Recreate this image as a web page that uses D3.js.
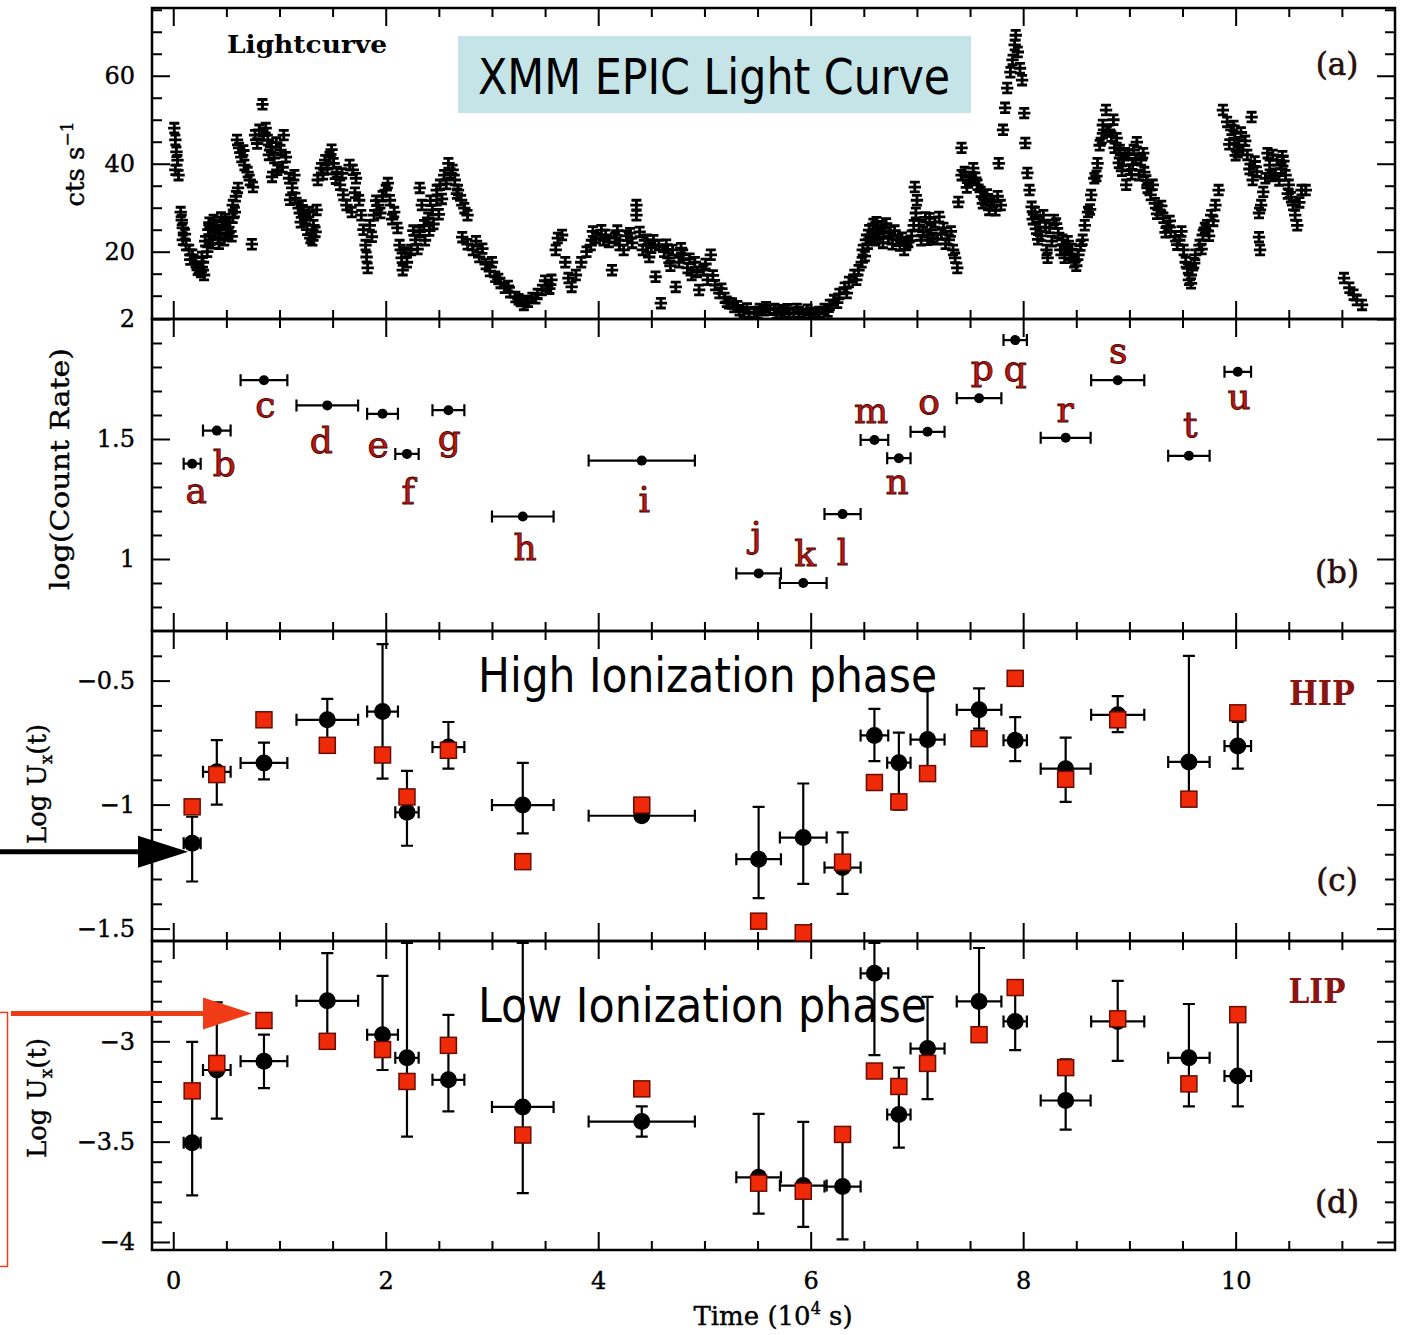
<!DOCTYPE html>
<html><head><meta charset="utf-8">
<script src="https://cdn.jsdelivr.net/npm/d3@7/dist/d3.min.js"></script>
<style>body{margin:0;background:#fff}svg{display:block}</style>
</head><body>
<svg id="chart" width="1402" height="1335"></svg>
<script>
// ---------------- DATA ----------------
const segmentNames = ["a","b","c","d","e","f","g","h","i","j","k","l","m","n","o","p","q","r","s","t","u"];
const segmentTime = [0.178,0.41,0.854,1.45,1.97,2.20,2.59,3.29,4.41,5.51,5.93,6.30,6.60,6.83,7.10,7.585,7.925,8.40,8.89,9.56,10.02];
const segmentHalfWidth = [0.08,0.13,0.22,0.29,0.145,0.11,0.15,0.29,0.50,0.21,0.22,0.17,0.13,0.11,0.16,0.21,0.11,0.235,0.25,0.195,0.125];
const logCountRate = [1.397,1.535,1.745,1.64,1.605,1.438,1.62,1.177,1.41,0.94,0.90,1.187,1.496,1.42,1.53,1.67,1.912,1.505,1.745,1.43,1.78];
const labelTime = [0.216,0.48,0.866,1.393,1.929,2.212,2.598,3.313,4.433,5.487,5.948,6.30,6.569,6.814,7.115,7.614,7.925,8.395,8.894,9.572,10.033];
const labelLogRate = [1.235,1.345,1.592,1.441,1.427,1.231,1.455,0.995,1.194,1.049,0.970,0.974,1.568,1.272,1.605,1.747,1.743,1.571,1.815,1.509,1.624];

const hipObs  = [-1.156,-0.868,-0.832,-0.658,-0.625,-1.031,-0.768,-1.002,-1.045,-1.22,-1.133,-1.254,-0.721,-0.831,-0.738,-0.618,-0.741,-0.855,-0.638,-0.828,-0.764];
const hipLow  = [-1.31,-1.0,-0.898,-0.748,-0.895,-1.166,-0.855,-1.116,-1.06,-1.377,-1.32,-1.36,-0.825,-1.02,-0.866,-0.694,-0.825,-0.989,-0.708,-0.99,-0.855];
const hipHigh = [-1.049,-0.74,-0.75,-0.574,-0.353,-0.864,-0.667,-0.832,-1.02,-1.009,-0.915,-1.112,-0.614,-0.71,-0.533,-0.531,-0.647,-0.73,-0.563,-0.40,-0.667];
const hipModel= [-1.009,-0.879,-0.658,-0.761,-0.80,-0.969,-0.781,-1.23,-1.002,-1.47,-1.517,-1.232,-0.911,-0.989,-0.875,-0.734,-0.491,-0.898,-0.658,-0.978,-0.63];

const lipObs  = [-3.505,-3.143,-3.099,-2.798,-2.967,-3.082,-3.192,-3.327,-3.40,-3.678,-3.719,-3.724,-2.661,-3.365,-3.036,-2.801,-2.901,-3.295,-2.901,-3.082,-3.173];
const lipLow  = [-3.768,-3.385,-3.233,-3.0,-3.143,-3.475,-3.349,-3.757,-3.475,-3.859,-3.925,-3.987,-3.069,-3.53,-3.288,-2.967,-3.044,-3.44,-3.097,-3.324,-3.324];
const lipHigh = [-3.003,-2.806,-2.967,-2.56,-2.674,-2.51,-2.868,-2.51,-3.324,-3.362,-3.401,-3.464,-2.51,-3.131,-2.778,-2.535,-2.74,-3.09,-2.699,-2.814,-2.867];
const lipModel= [-3.247,-3.11,-2.896,-3.0,-3.041,-3.2,-3.02,-3.467,-3.237,-3.707,-3.747,-3.464,-3.148,-3.225,-3.11,-2.967,-2.732,-3.131,-2.888,-3.212,-2.867];

// light curve: [time (1e4 s), rate (cts/s)]
const lightCurve = [
[0.01,48.1],[0.02,45.4],[0.03,42.7],[0.04,40.8],[0.02,38.6],[0.05,37.4],[0.07,29],[0.08,27.2],[0.09,25.4],[0.09,22.7],
[0.12,21.5],[0.15,20.4],[0.18,19.3],[0.21,17.6],[0.24,16.3],[0.26,15.4],[0.29,14.7],[0.28,17.6],[0.32,20],[0.35,22.7],
[0.39,24.5],[0.41,25.8],[0.44,24.2],[0.47,26],[0.50,25],[0.53,26.7],[0.55,23.5],[0.56,27.7],[0.56,30.6],[0.59,32.6],
[0.61,34.5],[0.60,45.4],[0.62,43.6],[0.64,41.5],[0.67,39.7],[0.70,38.1],[0.72,36.3],[0.75,34.7],[0.74,21.7],[0.77,46.5],
[0.81,47.7],[0.84,53.5],[0.87,48.1],[0.89,45.4],[0.92,43.8],[0.95,41.3],[0.98,38.6],[0.93,37],[1.01,43.1],[1.04,46.5],
[1.06,41.5],[1.09,36.7],[1.12,34.5],[1.15,32.2],[1.18,29.9],[1.20,26.7],[1.23,28.3],[1.26,25],[1.29,23.1],[1.32,26],
[1.35,29.5],[1.36,36.3],[1.39,39],[1.43,40.8],[1.47,41.5],[1.51,40.1],[1.54,38.1],[1.57,35.2],[1.60,32.9],[1.63,30.6],
[1.66,39.7],[1.69,38.6],[1.72,36.7],[1.68,29],[1.75,31.7],[1.77,28.3],[1.79,25],[1.81,21.5],[1.82,18.8],[1.83,16.3],
[1.85,26],[1.89,28.3],[1.93,30.6],[1.97,32.6],[2.00,34],[2.04,31.7],[2.08,29],[2.11,25.4],[2.13,21.5],[2.15,18.6],
[2.16,15.8],[2.20,17.6],[2.24,20.4],[2.28,22.7],[2.32,24.5],[2.32,34.5],[2.34,30.6],[2.36,26],[2.40,27.7],[2.44,29.5],
[2.48,34],[2.48,31.7],[2.51,35.2],[2.55,37.4],[2.59,40.1],[2.63,38.6],[2.65,36.3],[2.68,34],[2.71,31.7],[2.74,29.9],
[2.77,28.3],[2.72,23.3],[2.77,21.7],[2.82,20.4],[2.88,18.8],[2.94,17.2],[2.98,15.6],[3.03,14.3],[3.08,12.9],[3.12,11.8],
[3.17,10.8],[3.22,9.7],[3.27,8.8],[3.30,7.9],[3.34,8.6],[3.38,9.5],[3.43,10.4],[3.47,11.3],[3.52,12.2],[3.56,13.6],
[3.60,20.4],[3.62,23.1],[3.66,23.8],[3.69,17.6],[3.72,14],[3.75,12],[3.79,14.7],[3.84,17.6],[3.89,20],[3.93,21.5],
[3.98,23.1],[4.03,24.9],[4.07,23.8],[4.10,22.2],[4.13,15.8],[4.16,23.1],[4.20,21.5],[4.24,20.4],[4.27,23.6],[4.32,22],
[4.36,30.6],[4.36,28.3],[4.39,24.5],[4.42,20.4],[4.46,22.7],[4.50,20.9],[4.54,14.3],[4.57,21.5],[4.59,8.3],[4.62,20],
[4.66,18.6],[4.70,20.4],[4.73,12],[4.76,17.6],[4.80,19.3],[4.84,16.3],[4.88,14.7],[4.91,17.6],[4.95,11.3],[4.99,15.8],
[5.03,13.6],[5.06,19.3],[5.10,12.4],[5.14,10.6],[5.19,9.5],[5.23,8.3],[5.28,7.4],[5.33,6.7],[5.37,6.3],[5.42,6.1],
[5.47,6.3],[5.52,7],[5.56,6.7],[5.61,6.8],[5.66,7],[5.70,6.7],[5.75,6.3],[5.80,6.1],[5.84,6.1],[5.89,6.3],
[5.94,5.8],[5.99,6.1],[6.03,5.8],[6.08,6.3],[6.13,7],[6.18,7.9],[6.22,9],[6.27,10.4],[6.32,11.8],[6.36,13.1],
[6.41,14.7],[6.45,15.8],[6.48,17.6],[6.49,20.4],[6.52,22.7],[6.55,24.9],[6.59,26.3],[6.62,26.7],[6.66,25.8],[6.69,24.5],
[6.73,23.1],[6.77,21.7],[6.81,22.7],[6.84,21.4],[6.88,20.4],[6.92,22.2],[6.95,23.6],[6.98,34.7],[7.00,31.7],[6.99,28.8],
[7.02,26],[7.06,24.5],[7.10,22.7],[7.13,25],[7.17,26.7],[7.21,27.9],[7.25,25.4],[7.30,22.7],[7.34,20.4],[7.38,16.3],
[7.39,31.3],[7.42,37.4],[7.42,43.6],[7.45,38.1],[7.49,36.3],[7.53,39],[7.57,35.2],[7.60,33.6],[7.64,31.7],[7.68,29.5],
[7.72,31.3],[7.76,32.6],[7.77,40.1],[7.79,30.6],[7.81,47.7],[7.83,52.7],[7.85,57.2],[7.88,60.8],[7.90,63.6],[7.92,67],
[7.93,69.2],[7.95,65.4],[7.97,61.7],[7.99,59],[8.01,51.5],[8.02,44.7],[8.04,37.9],[8.06,34],[8.08,30.2],[8.11,29],
[8.15,26.7],[8.19,28.3],[8.22,20.4],[8.23,18.6],[8.25,25.4],[8.29,27.2],[8.33,24.2],[8.37,22.7],[8.40,20.9],[8.44,19.3],
[8.48,17.6],[8.52,19.3],[8.56,22.7],[8.58,26],[8.61,29],[8.64,32.9],[8.67,36.7],[8.70,40.1],[8.72,44.2],[8.75,48.8],
[8.78,52.2],[8.81,47.7],[8.85,50],[8.88,45.8],[8.91,43.1],[8.94,40.8],[8.97,35.2],[9.00,38.6],[9.04,43.1],[9.07,44.9],
[9.11,40.8],[9.14,38.1],[9.17,34.5],[9.20,32.9],[9.24,31],[9.28,29.5],[9.32,27.7],[9.36,25.8],[9.39,24.5],[9.43,23.5],
[9.47,22.6],[9.51,20.4],[9.53,17.6],[9.56,13.6],[9.59,15.8],[9.62,19.3],[9.66,21.5],[9.69,23.8],[9.73,26],[9.77,28.3],
[9.81,30.6],[9.84,34],[9.88,52.2],[9.92,49.5],[9.96,47.7],[9.99,45.8],[10.03,44.2],[10.07,43.1],[10.11,42],[10.15,50.6],
[10.16,36.3],[10.18,40.5],[10.22,28.8],[10.24,30.6],[10.22,23.3],[10.23,20.4],[10.28,36.7],[10.32,39.7],[10.35,42],[10.39,40.8],
[10.43,38.9],[10.47,37.4],[10.50,35.2],[10.54,30.6],[10.56,28.3],[10.58,26],[10.62,34],[10.66,34],
[11.02,14],[11.07,11.8],[11.11,10.2],[11.14,9],[11.19,7.9],
[0.30,22.4],[0.33,25],[0.37,21.9],[0.38,27.2],[0.42,23],[0.45,27.8],[0.48,22.6],[0.52,24.2],
[1.21,30.5],[1.25,27.5],[1.28,29],[1.31,22.6],[1.34,24.5],
[2.37,22.6],[2.41,24.8],[2.45,26.3],[2.50,28.5],[2.53,32],[2.85,22.4],[2.91,20.7],
[6.57,23.4],[6.63,24.1],[6.71,26.4],[6.79,24.8],[6.86,23.2],
[7.08,27.8],[7.15,23.2],[7.23,24],[7.27,21.8],[8.12,25.2],[8.17,23.6],
[8.90,40.2],[8.99,42.1],[9.03,39.8],[9.09,37.4],[10.00,41.9],[10.05,47.1],[10.09,45.2],
[10.37,37.7],[10.44,41.7],[10.49,33.2],
[0.11,24.0],[0.16,18.2],[0.23,15.9],[0.27,18.8],[0.34,26.6],[0.43,21.8],[0.49,27.4],[0.58,29.0],
[0.66,43.0],[0.79,44.6],[0.85,46.4],[0.90,42.0],[0.97,44.8],[1.03,39.2],[1.10,31.8],[1.14,37.4],
[1.41,37.6],[1.45,38.8],[1.49,43.2],[1.53,36.6],[1.59,37.8],[1.71,33.4],[1.87,23.4],[1.91,31.6],
[1.95,28.8],[2.02,35.6],[2.06,27.4],[2.18,19.8],[2.26,24.8],[2.30,20.6],[2.42,31.6],[2.57,35.4],
[2.61,37.8],[2.67,33.2],[3.00,17.6],[3.06,13.8],[3.15,12.2],[3.25,9.2],[3.32,8.8],[3.41,9.4],
[3.50,13.4],[3.54,11.6],[3.95,24.6],[4.05,22.6],[4.18,24.8],[4.30,24.2],[4.44,22.6],[4.48,18.8],
[4.52,22.6],[4.64,21.6],[4.68,16.8],[4.78,20.8],[4.86,18.4],[4.93,15.4],[5.01,17.2],[5.08,14.6],
[5.16,11.6],[5.21,8.6],[5.26,8.2],[5.31,7.6],[5.40,7.1],[5.50,6.0],[5.58,7.4],[5.68,6.0],
[5.78,6.9],[5.87,7.0],[5.97,6.8],[6.06,5.9],[6.16,6.4],[6.25,8.4],[6.34,10.6],[6.43,13.6],
[6.51,19.0],[6.54,21.8],[6.61,22.6],[6.68,22.0],[6.75,24.6],[6.90,21.6],[6.97,26.0],[7.04,22.6],
[7.12,27.6],[7.19,22.8],[7.32,24.6],[7.36,18.6],[7.47,34.6],[7.51,37.0],[7.55,36.8],[7.62,31.0],
[7.66,33.0],[7.70,30.6],[7.74,29.4],[8.09,27.4],[8.14,22.8],[8.21,25.6],[8.27,22.4],[8.31,26.4],
[8.35,20.4],[8.39,18.6],[8.42,22.4],[8.46,20.6],[8.50,16.8],[8.54,21.4],[8.63,29.6],[8.69,37.2],
[8.74,45.8],[8.79,47.4],[8.83,46.2],[8.86,43.6],[8.93,38.4],[8.96,42.4],[9.02,37.6],[9.06,41.2],
[9.13,42.4],[9.16,36.2],[9.22,35.2],[9.26,28.6],[9.30,30.4],[9.34,24.4],[9.38,27.0],[9.45,21.6],
[9.49,24.6],[9.55,16.2],[9.58,12.8],[9.61,17.4],[9.68,20.6],[9.71,25.4],[9.75,23.6],[9.79,27.0],
[9.94,44.4],[9.98,48.6],[10.02,42.6],[10.13,38.8],[10.20,38.2],[10.26,33.6],[10.30,42.4],[10.34,37.2],
[10.41,36.2],[10.45,40.6],[10.52,32.4],[10.60,31.2]
];
const lcRateError = 1.1;       // cts/s
const lcBinHalfWidth = 0.058;  // 1e4 s

// tick values / labels
const xMajorTicks = [0,2,4,6,8,10];
const xMinorTicks = [0.5,1,1.5,2.5,3,3.5,4.5,5,5.5,6.5,7,7.5,8.5,9,9.5,10.5,11];
const aMajor = [20,40,60], aLabels = ["20","40","60"];
const aMinor = [10,15,25,30,35,45,50,55,65,70,75];
const bMajor = [1,1.5,2], bLabels = ["1","1.5","2"];
const bMinor = [0.8,0.9,1.1,1.2,1.3,1.4,1.6,1.7,1.8,1.9];
const cMajor = [-0.5,-1,-1.5], cLabels = ["\u22120.5","\u22121","\u22121.5"];
const cMinor = [-0.4,-0.6,-0.7,-0.8,-0.9,-1.1,-1.2,-1.3,-1.4];
const dMajor = [-3,-3.5,-4], dLabels = ["\u22123","\u22123.5","\u22124"];
const dMinor = [-2.6,-2.7,-2.8,-2.9,-3.1,-3.2,-3.3,-3.4,-3.6,-3.7,-3.8,-3.9];

// ---------------- LAYOUT ----------------
const L = 152, R = 1395;
const SERIF = "'DejaVu Serif', 'Liberation Serif', serif";
const SANS = "'DejaVu Sans', Verdana, sans-serif";
const svg = d3.select("#chart");
const x = d3.scaleLinear().domain([-0.2, 11.5]).range([L, R]);

const panels = [
  {key:"a", top:8,   bottom:319,  domain:[4.7,75.4],  major:aMajor, labels:aLabels, minor:aMinor},
  {key:"b", top:319, bottom:631,  domain:[0.7,2.0],   major:bMajor, labels:bLabels, minor:bMinor},
  {key:"c", top:631, bottom:941,  domain:[-1.55,-0.3],major:cMajor, labels:cLabels, minor:cMinor},
  {key:"d", top:941, bottom:1250, domain:[-4.04,-2.5],major:dMajor, labels:dLabels, minor:dMinor}
];
panels.forEach(p => p.y = d3.scaleLinear().domain(p.domain).range([p.bottom, p.top]));
const [pA, pB, pC, pD] = panels;

function styleAxis(g, showText) {
  g.select(".domain").remove();
  g.selectAll(".tick line").attr("stroke", "#000").attr("stroke-width", 2);
  g.selectAll(".tick text").attr("font-family", SERIF).attr("font-size", 24).attr("fill", "#000")
    .attr("stroke", "#000").attr("stroke-width", 0.4);
  if (!showText) g.selectAll(".tick text").remove();
}

panels.forEach((p, idx) => {
  svg.append("g").attr("transform", `translate(${L},0)`)
    .call(d3.axisLeft(p.y).tickValues(p.minor).tickSize(-10).tickSizeOuter(0).tickFormat(""))
    .call(g => styleAxis(g, false));
  svg.append("g").attr("transform", `translate(${L},0)`)
    .call(d3.axisLeft(p.y).tickValues(p.major).tickSize(-18).tickSizeOuter(0).tickPadding(17)
      .tickFormat((d, i) => p.labels[i]))
    .call(g => styleAxis(g, true));
  svg.append("g").attr("transform", `translate(${R},0)`)
    .call(d3.axisRight(p.y).tickValues(p.minor).tickSize(-10).tickSizeOuter(0).tickFormat(""))
    .call(g => styleAxis(g, false));
  svg.append("g").attr("transform", `translate(${R},0)`)
    .call(d3.axisRight(p.y).tickValues(p.major).tickSize(-18).tickSizeOuter(0).tickFormat(""))
    .call(g => styleAxis(g, false));
  svg.append("g").attr("transform", `translate(0,${p.top})`)
    .call(d3.axisTop(x).tickValues(xMinorTicks).tickSize(-9).tickSizeOuter(0).tickFormat(""))
    .call(g => styleAxis(g, false));
  svg.append("g").attr("transform", `translate(0,${p.top})`)
    .call(d3.axisTop(x).tickValues(xMajorTicks).tickSize(-18).tickSizeOuter(0).tickFormat(""))
    .call(g => styleAxis(g, false));
  const last = idx === panels.length - 1;
  svg.append("g").attr("transform", `translate(0,${p.bottom})`)
    .call(d3.axisBottom(x).tickValues(xMinorTicks).tickSize(-9).tickSizeOuter(0).tickFormat(""))
    .call(g => styleAxis(g, false));
  svg.append("g").attr("transform", `translate(0,${p.bottom})`)
    .call(d3.axisBottom(x).tickValues(xMajorTicks).tickSize(-18).tickSizeOuter(0).tickPadding(22)
      .tickFormat(d3.format("d")))
    .call(g => styleAxis(g, last));
  svg.append("rect").attr("x", L).attr("y", p.top).attr("width", R - L).attr("height", p.bottom - p.top)
    .attr("fill", "none").attr("stroke", "#000").attr("stroke-width", 2.5);
});

// ---------------- PANEL (a) light curve ----------------
svg.append("clipPath").attr("id", "clipA").append("rect")
  .attr("x", L).attr("y", pA.top).attr("width", R - L).attr("height", pA.bottom - pA.top);
const capHalf = 5;
svg.append("g").attr("clip-path", "url(#clipA)")
  .selectAll("path").data(lightCurve).join("path")
  .attr("fill", "none").attr("stroke", "#000").attr("stroke-width", 2.8)
  .attr("d", ([t, v]) => {
    const yc = pA.y(v), y0 = pA.y(v - lcRateError), y1 = pA.y(v + lcRateError), xc = x(t);
    return `M${x(t - lcBinHalfWidth)},${yc}H${x(t + lcBinHalfWidth)}` +
           `M${xc},${y0}V${y1}` +
           `M${xc - capHalf},${y0}h${2 * capHalf}M${xc - capHalf},${y1}h${2 * capHalf}`;
  });

svg.append("text").attr("x", 227).attr("y", 53).attr("font-family", SERIF).attr("font-weight", "bold")
  .attr("font-size", 24).attr("textLength", 160).attr("lengthAdjust", "spacingAndGlyphs").text("Lightcurve");

// ---------------- PANEL (b) ----------------
const seg = segmentNames.map((n, i) => ({n, i, t: segmentTime[i], hw: segmentHalfWidth[i]}));
function xErr(g, yScale, yVals, capH) {
  g.selectAll(null).data(seg).join("path")
    .attr("fill", "none").attr("stroke", "#000").attr("stroke-width", 2.2)
    .attr("d", d => {
      const yy = yScale(yVals[d.i]), x0 = x(d.t - d.hw), x1 = x(d.t + d.hw);
      return `M${x0},${yy}H${x1}M${x0},${yy - capH}V${yy + capH}M${x1},${yy - capH}V${yy + capH}`;
    });
}
function yErr(g, yScale, lo, hi, capW) {
  g.selectAll(null).data(seg).join("path")
    .attr("fill", "none").attr("stroke", "#000").attr("stroke-width", 2.2)
    .attr("d", d => {
      const xx = x(d.t), y0 = yScale(lo[d.i]), y1 = yScale(hi[d.i]);
      return `M${xx},${y0}V${y1}M${xx - capW},${y0}h${2 * capW}M${xx - capW},${y1}h${2 * capW}`;
    });
}
const gB = svg.append("g");
xErr(gB, pB.y, logCountRate, 6);
gB.selectAll("circle").data(seg).join("circle")
  .attr("cx", d => x(d.t)).attr("cy", d => pB.y(logCountRate[d.i])).attr("r", 5).attr("fill", "#000");
gB.selectAll("text").data(seg).join("text")
  .attr("x", d => x(labelTime[d.i])).attr("y", d => pB.y(labelLogRate[d.i]))
  .attr("text-anchor", "middle").attr("font-family", SERIF).attr("font-size", 36)
  .attr("fill", "#c0140c").attr("stroke", "#4a0804").attr("stroke-width", 0.9)
  .text(d => d.n);

// ---------------- PANELS (c) and (d) ----------------
function ionPanel(p, obs, lo, hi, model) {
  const g = svg.append("g");
  xErr(g, p.y, obs, 6);
  yErr(g, p.y, lo, hi, 6);
  g.selectAll("circle").data(seg).join("circle")
    .attr("cx", d => x(d.t)).attr("cy", d => p.y(obs[d.i])).attr("r", 8.5).attr("fill", "#000");
  g.selectAll("rect").data(seg).join("rect")
    .attr("x", d => x(d.t) - 8).attr("y", d => p.y(model[d.i]) - 8)
    .attr("width", 16).attr("height", 16)
    .attr("fill", "#ee2a08").attr("stroke", "#6a0c02").attr("stroke-width", 1.5);
}
ionPanel(pC, hipObs, hipLow, hipHigh, hipModel);
ionPanel(pD, lipObs, lipLow, lipHigh, lipModel);

// ---------------- panel tags ----------------
const tagColor = "#2a0e0c";
[["(a)", 75], ["(b)", 583], ["(c)", 891], ["(d)", 1213]].forEach(([txt, yy]) => {
  svg.append("text").attr("x", 1337).attr("y", yy).attr("text-anchor", "middle")
    .attr("font-family", SERIF).attr("font-size", 31).attr("fill", tagColor)
    .attr("stroke", tagColor).attr("stroke-width", 0.6).text(txt);
});
svg.append("text").attr("x", 1322).attr("y", 705).attr("text-anchor", "middle").attr("font-family", SERIF)
  .attr("font-weight", "bold").attr("font-size", 33).attr("fill", "#8a1410").attr("textLength", 66)
  .attr("lengthAdjust", "spacingAndGlyphs").text("HIP");
svg.append("text").attr("x", 1317).attr("y", 1003).attr("text-anchor", "middle").attr("font-family", SERIF)
  .attr("font-weight", "bold").attr("font-size", 33).attr("fill", "#8a1410").attr("textLength", 57)
  .attr("lengthAdjust", "spacingAndGlyphs").text("LIP");

// ---------------- axis titles ----------------
(() => {
  const t = svg.append("text").attr("transform", `translate(84,164) rotate(-90)`)
    .attr("text-anchor", "middle").attr("font-family", SERIF).attr("font-size", 26)
    .attr("stroke", "#000").attr("stroke-width", 0.4);
  t.append("tspan").text("cts s");
  t.append("tspan").attr("font-size", 17).attr("dy", -11).text("\u22121");
})();
svg.append("text").attr("transform", `translate(69,469) rotate(-90)`).attr("text-anchor", "middle")
  .attr("font-family", SERIF).attr("font-size", 26).attr("textLength", 242)
  .attr("stroke", "#000").attr("stroke-width", 0.4)
  .attr("lengthAdjust", "spacingAndGlyphs").text("log(Count Rate)");
[784, 1098].forEach(cy => {
  const t = svg.append("text").attr("transform", `translate(46,${cy}) rotate(-90)`)
    .attr("text-anchor", "middle").attr("font-family", SERIF).attr("font-size", 26)
    .attr("stroke", "#000").attr("stroke-width", 0.4);
  t.append("tspan").text("Log U");
  t.append("tspan").attr("font-size", 17).attr("dy", 6).text("x");
  t.append("tspan").attr("dy", -6).text("(t)");
});
(() => {
  const t = svg.append("text").attr("x", 773).attr("y", 1325).attr("text-anchor", "middle")
    .attr("font-family", SERIF).attr("font-size", 26).attr("stroke", "#000").attr("stroke-width", 0.4);
  t.append("tspan").text("Time (10");
  t.append("tspan").attr("font-size", 16).attr("dy", -11).text("4");
  t.append("tspan").attr("dy", 11).text(" s)");
})();

// ---------------- overlays / annotations ----------------
svg.append("rect").attr("x", 458).attr("y", 36).attr("width", 513).attr("height", 77).attr("fill", "#c4e4e7");
svg.append("text").attr("x", 478).attr("y", 94).attr("font-family", SANS).attr("font-size", 49)
  .attr("textLength", 472).attr("lengthAdjust", "spacingAndGlyphs").attr("fill", "#000").text("XMM EPIC Light Curve");
svg.append("text").attr("x", 478).attr("y", 692).attr("font-family", SANS).attr("font-size", 48)
  .attr("textLength", 459).attr("lengthAdjust", "spacingAndGlyphs").attr("fill", "#000").text("High Ionization phase");
svg.append("text").attr("x", 478).attr("y", 1022).attr("font-family", SANS).attr("font-size", 48)
  .attr("textLength", 449).attr("lengthAdjust", "spacingAndGlyphs").attr("fill", "#000").text("Low Ionization phase");

// arrows (tips given in data coordinates)
const blackTip = {t: 0.139, v: -1.19};
const redTip = {t: 0.741, v: -2.861};
(() => {
  const tx = x(blackTip.t), ty = pC.y(blackTip.v);
  svg.append("line").attr("x1", 0).attr("y1", ty).attr("x2", tx - 46).attr("y2", ty)
    .attr("stroke", "#000").attr("stroke-width", 5);
  svg.append("path").attr("d", `M${tx - 50},${ty - 16}L${tx},${ty}L${tx - 50},${ty + 16}Z`).attr("fill", "#000");
})();
(() => {
  const tx = x(redTip.t), ty = pD.y(redTip.v);
  svg.append("line").attr("x1", 11).attr("y1", ty).attr("x2", tx - 46).attr("y2", ty)
    .attr("stroke", "#f03c16").attr("stroke-width", 5);
  svg.append("path").attr("d", `M${tx - 49},${ty - 16}L${tx},${ty}L${tx - 49},${ty + 16}Z`).attr("fill", "#f03c16");
  svg.append("rect").attr("x", -10).attr("y", ty - 1).attr("width", 17.5).attr("height", 254)
    .attr("fill", "none").attr("stroke", "#e8401e").attr("stroke-width", 1.5);
})();
</script>
</body></html>
